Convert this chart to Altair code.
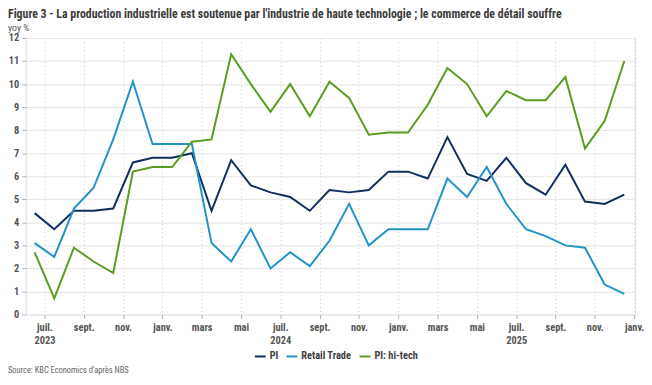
import json
import altair as alt
import pandas as pd

# ---- data ----
months = [
    "2023-06", "2023-07", "2023-08", "2023-09", "2023-10", "2023-11", "2023-12",
    "2024-01", "2024-02", "2024-03", "2024-04", "2024-05", "2024-06", "2024-07",
    "2024-08", "2024-09", "2024-10", "2024-11", "2024-12", "2025-01", "2025-02",
    "2025-03", "2025-04", "2025-05", "2025-06", "2025-07", "2025-08", "2025-09",
    "2025-10", "2025-11", "2025-12",
]
pi = [4.4, 3.7, 4.5, 4.5, 4.6, 6.6, 6.8, 6.8, 7.0, 4.5, 6.7, 5.6, 5.3, 5.1, 4.5,
      5.4, 5.3, 5.4, 6.2, 6.2, 5.9, 7.7, 6.1, 5.8, 6.8, 5.7, 5.2, 6.5, 4.9, 4.8, 5.2]
retail = [3.1, 2.5, 4.6, 5.5, 7.6, 10.1, 7.4, 7.4, 7.4, 3.1, 2.3, 3.7, 2.0, 2.7, 2.1,
          3.2, 4.8, 3.0, 3.7, 3.7, 3.7, 5.9, 5.1, 6.4, 4.8, 3.7, 3.4, 3.0, 2.9, 1.3, 0.9]
hitech = [2.7, 0.7, 2.9, 2.3, 1.8, 6.2, 6.4, 6.4, 7.5, 7.6, 11.3, 10.0, 8.8, 10.0, 8.6,
          10.1, 9.4, 7.8, 7.9, 7.9, 9.1, 10.7, 10.0, 8.6, 9.7, 9.3, 9.3, 10.3, 7.2, 8.4, 11.0]

series_names = ["PI", "Retail Trade", "PI: hi-tech"]
series_colors = ["#102f5e", "#2392c6", "#5a9b20"]

tick_months = ["juil.", "sept.", "nov.", "janv.", "mars", "mai",
               "juil.", "sept.", "nov.", "janv.", "mars", "mai",
               "juil.", "sept.", "nov.", "janv."]
tick_years = ["2023", "", "", "", "", "",
              "2024", "", "", "", "", "",
              "2025", "", "", ""]

title_text = ("Figure 3 - La production industrielle est soutenue par l'industrie "
              "de haute technologie ; le commerce de détail souffre")
unit_text = "yoy %"
source_text = "Source: KBC Economics d'après NBS"

FONT = "Liberation Sans Narrow, Roboto Condensed, Open Sans, sans-serif"

# ---- build table ----
rows = []
for name, vals in zip(series_names, [pi, retail, hitech]):
    for i, (m, v) in enumerate(zip(months, vals)):
        rows.append({"idx": i, "month": m, "series": name, "value": v})
df = pd.DataFrame(rows)

# ticks sit on the 1st of every other month, i.e. half a month after the mid-month points
tick_vals = [0.5 + 2 * k for k in range(len(tick_months))]
label_expr = "[{m}[round((datum.value - 0.5) / 2)], {y}[round((datum.value - 0.5) / 2)]]".format(
    m=json.dumps(tick_months), y=json.dumps(tick_years))

W, H = 617, 280

lines = alt.Chart(df).mark_line(strokeWidth=2).encode(
    x=alt.X("idx:Q",
            scale=alt.Scale(domain=[-0.45, 30.55], nice=False, zero=False),
            axis=alt.Axis(values=tick_vals, labelExpr=label_expr, title=None,
                          grid=True, gridColor="#c8c8c8", gridDash=[1, 3], gridWidth=1,
                          domain=False, ticks=True, tickSize=4, tickColor="#b0b0b0",
                          labelFont=FONT, labelFontSize=10.5, labelFontWeight="bold",
                          labelColor="#555555", labelPadding=4, labelLineHeight=13,
                          labelAlign="center", labelOverlap=False, labelFlush=False)),
    y=alt.Y("value:Q",
            scale=alt.Scale(domain=[0, 12], nice=False),
            axis=alt.Axis(values=list(range(0, 13)), title=None,
                          grid=True, gridColor="#e8e8e8", gridWidth=1.2,
                          domain=False, ticks=True, tickSize=4, tickColor="#b0b0b0",
                          labelFont=FONT, labelFontSize=10.5, labelFontWeight="bold",
                          labelColor="#555555", labelPadding=3)),
    color=alt.Color("series:N",
                    scale=alt.Scale(domain=series_names, range=series_colors),
                    legend=alt.Legend(title=None, orient="none", direction="horizontal",
                                      legendX=231, legendY=316,
                                      symbolType="stroke", symbolSize=120, symbolStrokeWidth=2,
                                      labelFont=FONT, labelFontSize=10.5, labelFontWeight="bold",
                                      labelColor="#404040", columnPadding=4, labelOffset=3)),
    detail="series:N",
)

source = alt.Chart(pd.DataFrame({"t": [source_text]})).mark_text(
    align="left", baseline="alphabetic", font=FONT, fontSize=8.5, color="#666666"
).encode(text="t:N", x=alt.value(-18), y=alt.value(339))

chart = alt.layer(lines, source).properties(
    width=W, height=H,
    title=alt.TitleParams(text=title_text, subtitle=unit_text, anchor="start",
                          frame="bounds", offset=-0.5, font=FONT, fontSize=12,
                          fontWeight="bold", color="#3c3c3c", subtitleFont=FONT,
                          subtitleFontSize=10, subtitleColor="#555555",
                          subtitlePadding=2),
    autosize=alt.AutoSizeParams(type="none"),
    padding={"left": 18, "top": 28, "right": 9, "bottom": 68},
).configure_view(stroke=None).configure(background="white")

chart.save("out.html", embed_options={"renderer": "svg", "actions": False})
